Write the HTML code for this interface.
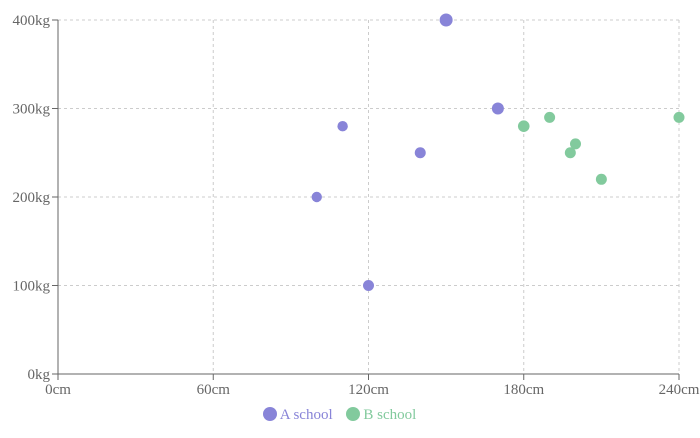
<!DOCTYPE html>
<html><head><meta charset="utf-8"><style>
body{margin:0;background:#fff;width:700px;height:433px;overflow:hidden;font-family:"Liberation Serif",serif}
text{font-family:"Liberation Serif",serif;font-size:15px;fill:#666}
</style></head><body>
<svg id="chart" width="700" height="433"></svg>
<script>
const xTicks=[0,60,120,180,240];
const yTicks=[0,100,200,300,400];
const aX=[150,170,110,140,100,120];
const aY=[400,300,280,250,200,100];
const aR=[6.5,6,5.2,5.5,5.2,5.5];
const bX=[180,190,200,198,210,240];
const bY=[280,290,260,250,220,290];
const bR=[5.8,5.5,5.5,5.5,5.5,5.5];
const L=58,R=679,T=20,B=374;
const sx=v=>L+(v-0)/(240-0)*(R-L);
const sy=v=>B-(v-0)/(400-0)*(B-T);
const svg=document.getElementById('chart');
const NS='http://www.w3.org/2000/svg';
function mk(t,a){const e=document.createElementNS(NS,t);for(const k in a)e.setAttribute(k,a[k]);svg.appendChild(e);return e;}
xTicks.forEach(v=>{if(v>0){const g=mk('line',{x1:sx(v),x2:sx(v),y1:T,y2:B,stroke:'#ccc','stroke-dasharray':'3 3'});

}});
yTicks.forEach(v=>{if(v>0){const g=mk('line',{x1:L,x2:R,y1:sy(v),y2:sy(v),stroke:'#ccc','stroke-dasharray':'3 3'});

}});
const xa=mk('line',{x1:L,x2:R,y1:B,y2:B,stroke:'#666'});


const ya=mk('line',{x1:L,x2:L,y1:T,y2:B,stroke:'#666'});


xTicks.forEach(v=>{mk('line',{x1:sx(v),x2:sx(v),y1:B,y2:B+6,stroke:'#666'});
const t=mk('text',{x:sx(v),y:B+20,'text-anchor':'middle'});t.textContent=v+'cm';

});
yTicks.forEach(v=>{mk('line',{x1:L-6,x2:L,y1:sy(v),y2:sy(v),stroke:'#666'});
const t=mk('text',{x:L-8,y:sy(v)+5,'text-anchor':'end'});t.textContent=v+'kg';

});
aX.forEach((x,i)=>{const c=mk('circle',{cx:sx(x),cy:sy(aY[i]),r:aR[i],fill:'#8884d8'});

});
bX.forEach((x,i)=>{const c=mk('circle',{cx:sx(x),cy:sy(bY[i]),r:bR[i],fill:'#82ca9d'});

});
</script>
<div style="position:absolute;left:0;top:407px;width:679px;text-align:center;font-size:15px">
<span style="color:#8884d8;margin-right:10px"><span style="display:inline-block;width:14px;height:14px;border-radius:50%;background:#8884d8;vertical-align:-2px;margin-right:3px"></span>A school</span>
<span style="color:#82ca9d"><span style="display:inline-block;width:14px;height:14px;border-radius:50%;background:#82ca9d;vertical-align:-2px;margin-right:3px"></span>B school</span>
</div>
</body></html>
